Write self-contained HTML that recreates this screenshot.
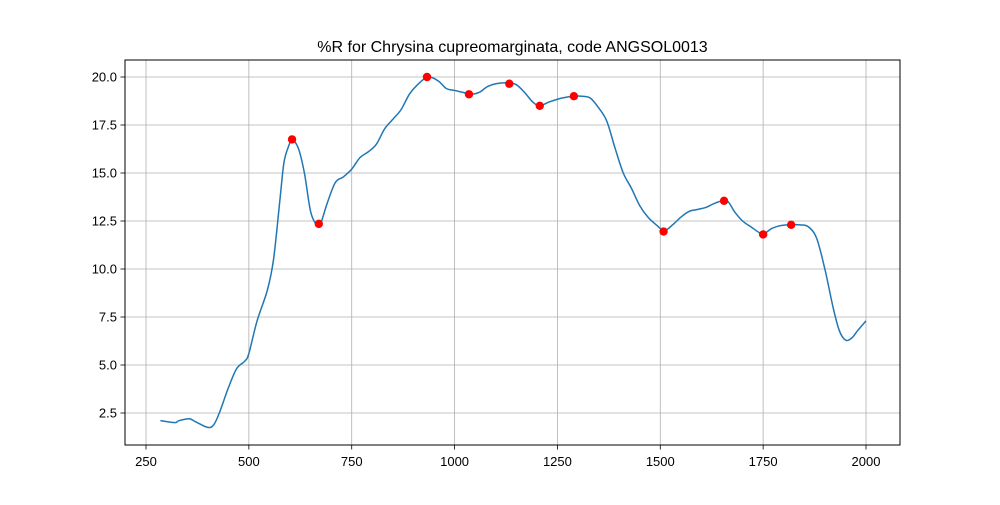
<!DOCTYPE html>
<html><head><meta charset="utf-8"><style>
html,body{margin:0;padding:0;background:#fff;}
svg text{font-family:"Liberation Sans","DejaVu Sans",sans-serif;}
</style></head><body>
<svg id="chart" width="1000" height="500" xmlns="http://www.w3.org/2000/svg">
<rect width="1000" height="500" fill="#fff"/>
<g id="grid"></g>
<g id="ticks"></g>
<path id="curve" fill="none" stroke="#1f77b4" stroke-width="1.5"/>
<g id="peaks"></g>
<rect x="125" y="60" width="775" height="385" fill="none" stroke="#000" stroke-width="1"/>
<text x="512.5" y="52" text-anchor="middle" font-size="16">%R for Chrysina cupreomarginata, code ANGSOL0013</text>
</svg>
<script>
const wavelengths=[285,320,330,355,370,400,415,430,450,470,490,500,520,545,560,575,585,595,605,620,635,650,665,675,690,710,730,750,770,790,810,830,850,870,890,910,935,960,980,1000,1020,1040,1060,1080,1100,1130,1150,1170,1190,1207,1230,1260,1290,1310,1330,1350,1370,1390,1410,1430,1450,1470,1490,1510,1530,1550,1570,1590,1610,1630,1650,1665,1680,1700,1720,1740,1750,1770,1790,1810,1840,1860,1880,1900,1920,1935,1950,1965,1980,2000];
const reflectance=[2.1,2.0,2.1,2.2,2.05,1.75,1.9,2.6,3.8,4.8,5.2,5.6,7.3,8.9,10.5,13.5,15.5,16.3,16.7,16.3,15.0,13.0,12.3,12.4,13.4,14.5,14.8,15.2,15.8,16.1,16.5,17.3,17.8,18.3,19.1,19.6,20.0,19.8,19.4,19.3,19.2,19.1,19.2,19.5,19.65,19.7,19.6,19.2,18.7,18.5,18.7,18.9,19.0,19.0,18.9,18.4,17.7,16.3,15.0,14.2,13.3,12.7,12.3,12.0,12.3,12.7,13.0,13.1,13.2,13.4,13.55,13.5,13.0,12.5,12.2,11.9,11.8,12.1,12.25,12.3,12.3,12.2,11.6,10.0,8.0,6.8,6.3,6.4,6.8,7.3];
const peakX=[605,670,933,1035,1133,1207,1290,1508,1655,1750,1818];
const peakY=[16.75,12.35,20.0,19.1,19.65,18.5,19.0,11.95,13.55,11.8,12.3];
const xTicks=[250,500,750,1000,1250,1500,1750,2000];
const yTicks=[2.5,5.0,7.5,10.0,12.5,15.0,17.5,20.0];

const X=v=>146+(v-250)*720/1750;
const Y=v=>77+(20-v)*19.2;
const NS="http://www.w3.org/2000/svg";
const mk=(t,a,p)=>{const e=document.createElementNS(NS,t);for(const k in a)e.setAttribute(k,a[k]);p.appendChild(e);return e;};
const grid=document.getElementById('grid'),ticks=document.getElementById('ticks');
xTicks.forEach(v=>{
  const g=mk('line',{x1:X(v),x2:X(v),y1:60,y2:445,stroke:'#b0b0b0','stroke-width':0.8},grid);
  
  
  mk('line',{x1:X(v),x2:X(v),y1:445,y2:449.5,stroke:'#000','stroke-width':0.8},ticks);
  const t=mk('text',{x:X(v),y:466,'text-anchor':'middle','font-size':13},ticks);t.textContent=v;
  
  
});
yTicks.forEach(v=>{
  const g=mk('line',{x1:125,x2:900,y1:Y(v),y2:Y(v),stroke:'#b0b0b0','stroke-width':0.8},grid);
  
  
  mk('line',{x1:120.5,x2:125,y1:Y(v),y2:Y(v),stroke:'#000','stroke-width':0.8},ticks);
  const t=mk('text',{x:117,y:Y(v)+4.5,'text-anchor':'end','font-size':13},ticks);t.textContent=v.toFixed(1);
  
  
});
const P=wavelengths.map((w,i)=>[X(w),Y(reflectance[i])]);
let d=`M${P[0][0]},${P[0][1]}`;
for(let i=0;i<P.length-1;i++){
  const p0=P[Math.max(0,i-1)],p1=P[i],p2=P[i+1],p3=P[Math.min(P.length-1,i+2)];
  d+=` C${p1[0]+(p2[0]-p0[0])/6},${p1[1]+(p2[1]-p0[1])/6} ${p2[0]-(p3[0]-p1[0])/6},${p2[1]-(p3[1]-p1[1])/6} ${p2[0]},${p2[1]}`;
}
document.getElementById('curve').setAttribute('d',d);
const pk=document.getElementById('peaks');
peakX.forEach((v,i)=>{
  const c=mk('circle',{cx:X(v),cy:Y(peakY[i]),r:4.2,fill:'#ff0000'},pk);
  
  
});
</script>
</body></html>
